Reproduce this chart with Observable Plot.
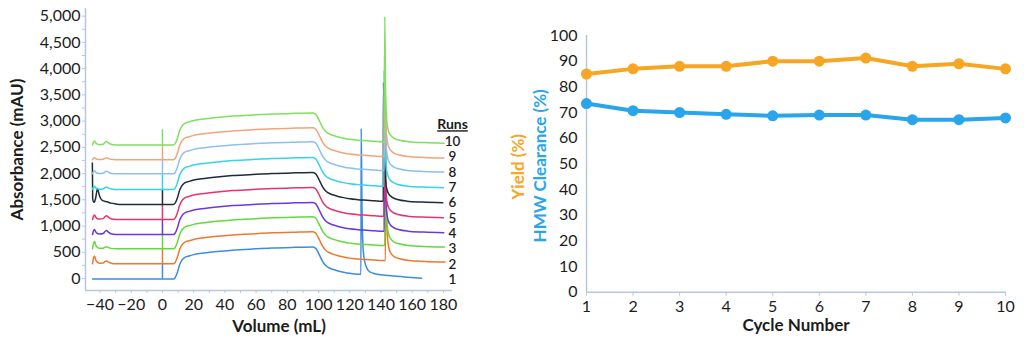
<!DOCTYPE html>
<html><head><meta charset="utf-8">
<script src="https://cdn.jsdelivr.net/npm/d3@7"></script>
<script src="https://cdn.jsdelivr.net/npm/@observablehq/plot@0.6"></script>
<style>
body{margin:0;background:#fff;}
#wrap{display:flex;width:1024px;height:342px;overflow:hidden;}
</style></head><body><div id="wrap"></div>
<script>
// ---------- Left panel data (chromatogram overlay) ----------
const runs = [1, 2, 3, 4, 5, 6, 7, 8, 9, 10];
const runColors = ["#3b8de4", "#f0782e", "#62da3c", "#6a37e0", "#e8336a", "#1e2b3b", "#33d4ea", "#8cc0f0", "#f4a47c", "#7fe05e"];
const baselines = [-10, 280, 566, 839, 1125, 1411, 1697, 1996, 2263, 2545];
const labelAbs = [-20, 272, 564, 856, 1148, 1440, 1732, 2024, 2316, 2608];
// typical run shape (mAU above baseline)
const profileVol = [7, 8, 9.5, 11, 12.5, 14, 17, 20, 25, 35, 45, 56, 70, 85, 96, 98, 99.5, 101, 102.5, 104, 106, 109, 112, 116, 120, 125, 131, 136, 141];
const profileAbs = [0, 20, 120, 270, 360, 405, 440, 465, 490, 525, 550, 568, 590, 603, 610, 588, 520, 430, 340, 275, 225, 185, 158, 130, 108, 92, 80, 70, 63];
// small bumps at start of each run
const bumpVol = [-44.8, -44.2, -43.5, -42.8, -42, -40.5, -38, -36.8, -35.8, -34.6, -33, -30];
const bump1Shape = [0, 0.7, 1, 0.55, 0.25, 0.08, 0.02, 0, 0, 0, 0, 0];
const bump2Shape = [0, 0, 0, 0, 0, 0, 0.2, 0.75, 1, 0.6, 0.2, 0];
const bump1 = [0, 150, 140, 95, 85, 0, 60, 57, 40, 76];
const bump2 = [0, 55, 40, 75, 70, 0, 45, 50, 40, 65];
const run6StartVol = [-44.9, -44.7, -43.8, -42.8, -41.6, -40.5, -39, -37, -35.5, -33, -30, -26];
const run6StartAbs = [790, 100, 40, 120, 305, 180, 90, 60, 50, 25, 10, 0];
// strip peak
const spikeVol = [127.3, 143.0, 142.6, 142.2, 142.0, 141.6, 142.0, 142.2, 142.3, 142.4];
const spikeTop = [2860, 2650, 2900, 3200, 3490, 3740, 3965, 4250, 4480, 4990];
const tailDVol = [0.5, 1.0, 1.6, 2.2, 3, 4, 6, 9, 15, 25, 38];
const tailAbs = [1100, 600, 380, 286, 220, 175, 128, 95, 63, 45, 32];
const run1TailDVol = [0.5, 1.2, 2.2, 3.2, 4.9, 7.7, 10.2, 17.7, 27.7, 38.7];
const run1TailAbs = [1400, 600, 343, 240, 152, 110, 90, 65, 40, 15];
const injectHeight = 290;

// ---------- Right panel data ----------
const cycles = [1, 2, 3, 4, 5, 6, 7, 8, 9, 10];
const yieldPct = [85, 87, 88, 88, 90, 90, 91.2, 88, 89, 87];
const hmwPct = [73.5, 70.7, 70, 69.3, 68.7, 69, 69, 67.2, 67.2, 67.9];

const font = "Lato, 'Open Sans', sans-serif";
const axisColor = "#b7c8da";
const textColor = "#1c1c1c";

function runRows(i) {
  const b = baselines[i];
  const rows = [];
  if (runs[i] === 6) {
    run6StartVol.forEach((v, j) => rows.push({vol: v, abs: b + run6StartAbs[j]}));
  } else {
    bumpVol.forEach((v, j) => rows.push({vol: v, abs: b + bump1[i] * bump1Shape[j] + bump2[i] * bump2Shape[j]}));
  }
  const s = spikeVol[i];
  profileVol.forEach((v, j) => { if (v < s - 0.3) rows.push({vol: v, abs: b + profileAbs[j]}); });
  const pre = rows[rows.length - 1].abs;
  rows.push({vol: s - 0.15, abs: pre});
  rows.push({vol: s, abs: spikeTop[i]});
  if (runs[i] === 1) {
    run1TailDVol.forEach((d, j) => rows.push({vol: s + d, abs: b + run1TailAbs[j]}));
  } else {
    tailDVol.forEach((d, j) => rows.push({vol: s + d, abs: b + tailAbs[j]}));
  }
  return rows;
}

const xMin = -49.3, xMax = 185.8, yMin = -229, yMax = 5146;
const traceMarks = [];
runs.forEach((r, i) => {
  traceMarks.push(Plot.line(runRows(i), {x: "vol", y: "abs", stroke: runColors[i], strokeWidth: 1.5, curve: "monotone-x"}));
  traceMarks.push(Plot.ruleX([r], {x: () => 0, y1: () => baselines[i], y2: () => baselines[i] + injectHeight, stroke: runColors[i], strokeWidth: 1.5}));
});

const minusFmt = d => d < 0 ? "\u2212" + (-d) : String(d);

const left = Plot.plot({
  width: 490, height: 342,
  marginLeft: 85, marginRight: 38, marginTop: 8, marginBottom: 52,
  style: {fontFamily: font, fontSize: "16px", color: textColor, background: "white", overflow: "visible"},
  x: {domain: [xMin, xMax]},
  y: {domain: [yMin, yMax]},
  marks: [
    Plot.axisY(d3.range(250, 5001, 500), {tickSize: 3, tickFormat: () => "", stroke: axisColor, label: null}),
    Plot.axisY(d3.range(0, 5001, 500), {tickSize: 3, tickPadding: 2, tickFormat: d3.format(","), stroke: axisColor, fill: textColor, fontSize: 16, label: null}),
    Plot.axisX(d3.range(-30, 181, 20), {tickSize: 3, tickFormat: () => "", stroke: axisColor, label: null}),
    Plot.axisX(d3.range(-40, 181, 20), {tickSize: 3, tickPadding: 5, tickFormat: minusFmt, stroke: axisColor, fill: textColor, fontSize: 16, label: null}),
    Plot.ruleX([xMin], {stroke: axisColor, strokeWidth: 1.5}),
    Plot.ruleY([yMin], {stroke: axisColor, strokeWidth: 1.5}),
    ...traceMarks,
    Plot.text(runs, {y: (d, i) => labelAbs[i], frameAnchor: "right", text: d => String(d), textAnchor: "middle", fontSize: 13.5, fontWeight: 600, fill: textColor}),
    Plot.text(["Runs"], {y: () => 2930, frameAnchor: "right", text: d => d, textAnchor: "middle", fontSize: 14, fontWeight: "bold", fill: textColor}),
    Plot.text(["Absorbance (mAU)"], {frameAnchor: "left", text: d => d, textAnchor: "middle", lineAnchor: "middle", dx: -67.5, rotate: -90, fontWeight: "bold", fontSize: 17, fill: textColor}),
    Plot.text(["Volume (mL)"], {frameAnchor: "bottom", text: d => d, textAnchor: "middle", lineAnchor: "middle", dx: 10, dy: 36, fontWeight: "bold", fontSize: 17, fill: textColor})
  ]
});
d3.select(left).selectAll("text").filter(function() { return this.textContent === "Runs"; }).style("text-decoration", "underline");

const orange = "#f6a623";
const blue = "#28a5ec";
const right = Plot.plot({
  width: 534, height: 342,
  marginLeft: 96, marginRight: 19, marginTop: 35, marginBottom: 50.3,
  style: {fontFamily: font, fontSize: "16px", color: textColor, background: "white", overflow: "visible"},
  x: {domain: [1, 10]},
  y: {domain: [0, 100]},
  marks: [
    Plot.axisY(d3.range(0, 101, 10), {tickSize: 0, tickPadding: 9, fill: textColor, fontSize: 16, label: null}),
    Plot.axisX(cycles, {tickSize: 4, tickPadding: 4, stroke: axisColor, fill: textColor, fontSize: 16, label: null}),
    Plot.ruleX([1], {stroke: axisColor, strokeWidth: 1.5}),
    Plot.ruleY([0], {stroke: axisColor, strokeWidth: 1.5}),
    Plot.line(cycles, {x: d => d, y: (d, i) => yieldPct[i], stroke: orange, strokeWidth: 4}),
    Plot.dot(cycles, {x: d => d, y: (d, i) => yieldPct[i], fill: orange, r: 5.5}),
    Plot.line(cycles, {x: d => d, y: (d, i) => hmwPct[i], stroke: blue, strokeWidth: 4}),
    Plot.dot(cycles, {x: d => d, y: (d, i) => hmwPct[i], fill: blue, r: 5.5}),
    Plot.text(["Yield (%)"], {frameAnchor: "left", text: d => d, textAnchor: "middle", lineAnchor: "middle", dx: -68, dy: 3, rotate: -90, fontWeight: "bold", fontSize: 17, fill: orange}),
    Plot.text(["HMW Clearance (%)"], {frameAnchor: "left", text: d => d, textAnchor: "middle", lineAnchor: "middle", dx: -46, dy: 2, rotate: -90, fontWeight: "bold", fontSize: 17, fill: blue}),
    Plot.text(["Cycle Number"], {frameAnchor: "bottom", text: d => d, textAnchor: "middle", lineAnchor: "middle", dy: 33, fontWeight: "bold", fontSize: 17, fill: textColor})
  ]
});

const wrap = document.getElementById("wrap");
wrap.appendChild(left);
wrap.appendChild(right);
</script></body></html>
